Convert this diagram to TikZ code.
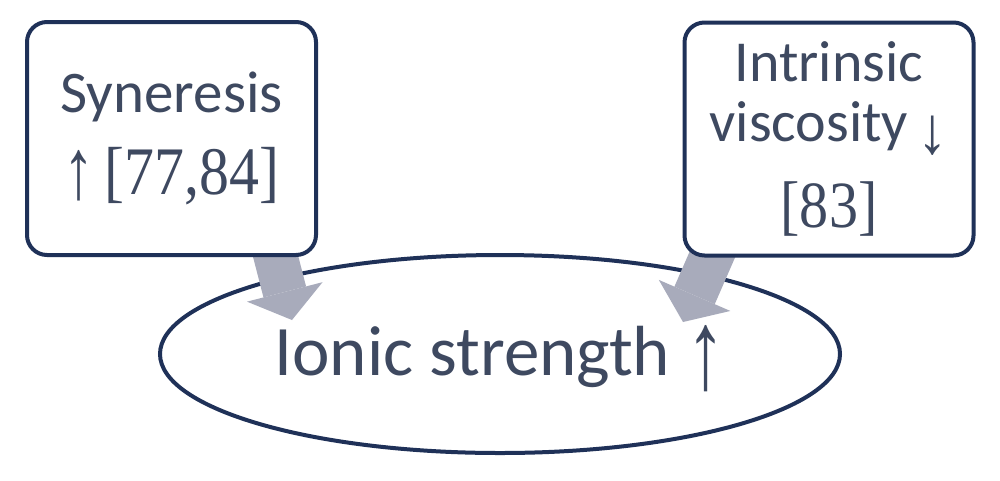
\documentclass[tikz,border=0pt]{standalone}
\usepackage{fontspec}
\usepackage{graphicx}
\setmainfont{Carlito}
\newfontfamily\citefont[FakeStretch=0.88]{Liberation Serif}
\newfontfamily\arrfont{Liberation Serif}
\usetikzlibrary{arrows.meta,shapes.geometric,calc}
\pgfdeclarelayer{bg}
\pgfdeclarelayer{arr}
\pgfsetlayers{bg,arr,main}
\definecolor{textc}{HTML}{3E4960}
\definecolor{borderc}{HTML}{1F3158}
\definecolor{arrowc}{HTML}{A8ABBB}
\newcommand{\uparr}[3]{\raisebox{#1}{\scalebox{#2}[#3]{\arrfont ↑}}}
\newcommand{\downarr}[3]{\raisebox{#1}{\scalebox{#2}[#3]{\arrfont ↓}}}
\tikzset{
  box/.style={draw=borderc, line width=4pt, rounded corners=20pt, fill=white,
    minimum width=289pt, minimum height=233pt, inner sep=0pt, align=center, text=textc},
  oval/.style={ellipse, draw=borderc, line width=4pt, fill=white,
    minimum width=680pt, minimum height=198pt, inner sep=0pt, text=textc},
  blockarrow/.style={arrowc, line width=44pt,
    -{Triangle[length=29pt, width=78pt, line width=0pt]}}
}
\begin{document}
\begin{tikzpicture}[x=1pt, y=-1pt]
\useasboundingbox (0,0) rectangle (1000,480);
\begin{pgfonlayer}{bg}
\node[oval, font=\fontsize{71}{80}\selectfont, text height=50pt, text depth=8pt] (ionic) at (500,354)
  {Ionic strength \uparr{-13pt}{1.1}{1.58}};
\end{pgfonlayer}
\node[box, font=\fontsize{59}{82}\selectfont] (syn) at (171.5,138.5)
  {Syneresis\\\uparr{-4pt}{1.05}{1.45}\,{\citefont\fontsize{68}{82}\selectfont[77,84]}};
\node[box, font=\fontsize{58}{60}\selectfont] (visc) at (829,139)
  {Intrinsic\\viscosity\,\downarr{-12pt}{1.05}{1.15}\\[26pt]{\citefont\fontsize{66}{60}\selectfont [83]}};
\coordinate (t1) at (292,320);
\coordinate (s1) at ($(t1)+(-25,-97)$);
\coordinate (t2) at (683,322);
\coordinate (s2) at ($(t2)+(40,-92)$);
\begin{pgfonlayer}{arr}
\draw[blockarrow] (s1) -- (t1);
\draw[blockarrow] (s2) -- (t2);
\end{pgfonlayer}
\end{tikzpicture}
\end{document}
